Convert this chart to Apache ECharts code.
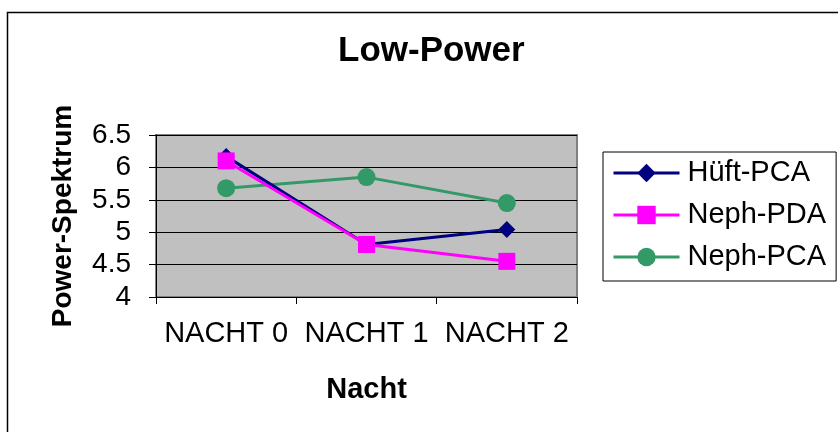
<!DOCTYPE html>
<html>
<head>
<meta charset="utf-8">
<script src="https://cdn.jsdelivr.net/npm/echarts@6/dist/echarts.min.js"></script>
<style>html,body{margin:0;padding:0;background:#fff;}#c{width:838px;height:432px;}</style>
</head>
<body>
<div id="c"></div>
<script>
const categories = ['NACHT 0', 'NACHT 1', 'NACHT 2'];
const hueftPCA = [6.17, 4.81, 5.04];
const nephPDA = [6.10, 4.81, 4.55];
const nephPCA = [5.68, 5.85, 5.45];
const yTicks = [4, 4.5, 5, 5.5, 6, 6.5];

const FONT = '"Liberation Sans", Arial, sans-serif';
const chart = echarts.init(document.getElementById('c'), null, {renderer: 'canvas'});
chart.setOption({
  animation: false,
  backgroundColor: '#fff',
  graphic: [{
    type: 'rect', left: 5, top: 10, shape: {x: 0, y: 0, width: 900, height: 500},
    style: {fill: 'none', stroke: '#000', lineWidth: 1.5}, z: -10
  }],
  title: {
    text: 'Low-Power', left: 333, top: 29,
    textStyle: {fontFamily: FONT, fontSize: 35, fontWeight: 'bold', color: '#000'}
  },
  grid: {
    left: 156, right: 261, top: 135, bottom: 135,
    show: true, backgroundColor: '#c0c0c0', borderColor: '#808080', borderWidth: 2
  },
  legend: {
    orient: 'vertical', left: 603, top: 152,
    padding: [6, 10, 9, 9],
    borderColor: '#000', borderWidth: 1,
    itemWidth: 66, itemHeight: 23, itemGap: 12,
    lineStyle: {width: 3},
    textStyle: {fontFamily: FONT, fontSize: 29, color: '#000', lineHeight: 30, padding: [0, 0, 0, 3]},
    data: ['Hüft-PCA', 'Neph-PDA', 'Neph-PCA']
  },
  xAxis: {
    type: 'category', data: categories, boundaryGap: true,
    name: 'Nacht', nameLocation: 'middle', nameGap: 78,
    nameTextStyle: {fontFamily: FONT, fontSize: 29, fontWeight: 'bold', color: '#000'},
    axisLine: {lineStyle: {color: '#000', width: 1}},
    axisTick: {show: true, length: 7, alignWithLabel: false, lineStyle: {color: '#000'}},
    axisLabel: {fontFamily: FONT, fontSize: 29, color: '#000', margin: 22, interval: 0, hideOverlap: false},
    splitLine: {show: false}
  },
  yAxis: {
    type: 'value', min: 4, max: 6.5, interval: 0.5,
    name: 'Power-Spektrum', nameLocation: 'middle', nameGap: 79, nameRotate: 90,
    nameTextStyle: {fontFamily: FONT, fontSize: 28, fontWeight: 'bold', color: '#000'},
    axisLine: {show: true, lineStyle: {color: '#000', width: 1}},
    axisTick: {show: true, length: 7, lineStyle: {color: '#000'}},
    axisLabel: {fontFamily: FONT, fontSize: 28, color: '#000', margin: 25,
      formatter: v => String(yTicks.find(t => Math.abs(t - v) < 1e-9) ?? v)},
    splitLine: {show: true, lineStyle: {color: '#000', width: 1}}
  },
  series: [
    {name: 'Hüft-PCA', type: 'line', data: hueftPCA, symbol: 'diamond', symbolSize: 17,
     lineStyle: {color: '#000080', width: 3}, itemStyle: {color: '#000080'}, z: 3},
    {name: 'Neph-PDA', type: 'line', data: nephPDA, symbol: 'rect', symbolSize: 17,
     lineStyle: {color: '#ff00ff', width: 3}, itemStyle: {color: '#ff00ff'}, z: 4},
    {name: 'Neph-PCA', type: 'line', data: nephPCA, symbol: 'circle', symbolSize: 18,
     lineStyle: {color: '#339966', width: 3}, itemStyle: {color: '#339966'}, z: 2}
  ]
});
</script>
</body>
</html>
